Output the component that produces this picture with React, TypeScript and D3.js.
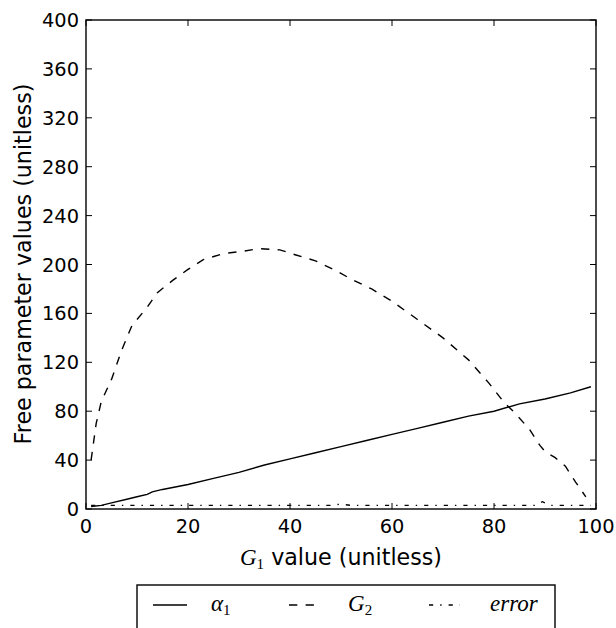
import React from "react";
import * as d3 from "d3";

const alphaX = [1, 3, 5, 8, 10, 12, 13, 15, 20, 25, 30, 35, 40, 45, 50, 55, 60, 65, 70, 75, 80, 85, 90, 95, 99];
const alphaY = [2, 3, 5, 8, 10, 12, 14, 16, 20, 25, 30, 36, 41, 46, 51, 56, 61, 66, 71, 76, 80, 86, 90, 95, 100];

const g2X = [1, 2, 3, 5, 7, 9, 12, 14, 17, 20, 23, 27, 31, 34, 38, 41, 45, 49, 52, 56, 60, 65, 70, 75, 79, 82, 84, 87, 89, 90, 92, 94, 96, 98];
const g2Y = [40, 70, 88, 106, 130, 150, 165, 177, 187, 196, 204, 209, 211, 213, 212, 208, 203, 195, 188, 180, 170, 155, 140, 122, 103, 87, 79, 65, 52, 47, 42, 35, 22, 10];

const errX = [1, 10, 20, 30, 40, 48, 50, 52, 60, 70, 80, 88, 89.5, 91, 99];
const errY = [3, 3, 3, 3, 3, 3, 4, 3, 3, 3, 3, 3, 6, 3, 3];

const xTicks = [0, 20, 40, 60, 80, 100];
const yTicks = [0, 40, 80, 120, 160, 200, 240, 280, 320, 360, 400];

export default function App() {
  const W = 616, H = 628;
  const L = 86, R = 596, T = 20, B = 509;
  const x = d3.scaleLinear().domain([0, 100]).range([L, R]);
  const y = d3.scaleLinear().domain([0, 400]).range([B, T]);
  const line = d3.line<[number, number]>().x(d => x(d[0])).y(d => y(d[1]));
  const pts = (xs: number[], ys: number[]) => xs.map((v, i) => [v, ys[i]] as [number, number]);
  const font = "'DejaVu Sans', sans-serif";
  const serif = "'Liberation Serif', 'DejaVu Serif', serif";
  const tl = 6;
  const lw = 1.4;
  return (
    <svg width={W} height={H} style={{ position: "absolute", left: 0, top: 0, background: "#fff" }}>
      <rect x={0} y={0} width={W} height={H} fill="#fff" />
      <g fill="none" stroke="#000" strokeWidth={lw}>
        <path d={line(pts(alphaX, alphaY)) || ""} />
        <path d={line(pts(g2X, g2Y)) || ""} strokeDasharray="8.3 8.3" />
        <path d={line(pts(errX, errY)) || ""} strokeDasharray="4.2 7 1.4 7" />
      </g>
      <g stroke="#000" strokeWidth={1}>
        {xTicks.map(t => (
          <g key={"x" + t}>
            <line x1={x(t)} x2={x(t)} y1={B} y2={B - tl} />
            <line x1={x(t)} x2={x(t)} y1={T} y2={T + tl} />
          </g>
        ))}
        {yTicks.map(t => (
          <g key={"y" + t}>
            <line x1={L} x2={L + tl} y1={y(t)} y2={y(t)} />
            <line x1={R} x2={R - tl} y1={y(t)} y2={y(t)} />
          </g>
        ))}
      </g>
      <rect x={L} y={T} width={R - L} height={B - T} fill="none" stroke="#000" strokeWidth={lw} />
      <g fontFamily={font} fontSize={19.4} fill="#000">
        {xTicks.map(t => (
          <text key={"xl" + t} x={x(t)} y={533} textAnchor="middle">{t}</text>
        ))}
        {yTicks.map(t => (
          <text key={"yl" + t} x={79} y={y(t) + 7} textAnchor="end">{t}</text>
        ))}
      </g>
      <text x={341} y={565} textAnchor="middle" fontFamily={font} fontSize={22.2}>
        <tspan fontFamily={serif} fontStyle="italic" fontSize={23}>G</tspan>
        <tspan fontFamily={serif} fontSize={15} dy={4}>1</tspan>
        <tspan dy={-4}>{"  value (unitless)"}</tspan>
      </text>
      <text transform={`translate(31,${264}) rotate(-90)`} textAnchor="middle" fontFamily={font} fontSize={22.2}>
        Free parameter values (unitless)
      </text>
      <rect x={137} y={585} width={418} height={60} fill="#fff" stroke="#000" strokeWidth={lw} />
      <g stroke="#000" strokeWidth={lw}>
        <line x1={153} x2={187} y1={605} y2={605} />
        <line x1={288} x2={322} y1={605} y2={605} strokeDasharray="8.3 8.3" strokeDashoffset={-1} />
        <line x1={429} x2={460} y1={605} y2={605} strokeDasharray="4.2 7 1.4 7" />
      </g>
      <g fontFamily={serif} fontSize={23} fill="#000">
        <text x={211} y={611}>
          <tspan fontStyle="italic">α</tspan>
          <tspan fontSize={15} dy={4}>1</tspan>
        </text>
        <text x={348} y={611}>
          <tspan fontStyle="italic">G</tspan>
          <tspan fontSize={15} dy={4}>2</tspan>
        </text>
        <text x={490} y={611} fontStyle="italic">error</text>
      </g>
    </svg>
  );
}
